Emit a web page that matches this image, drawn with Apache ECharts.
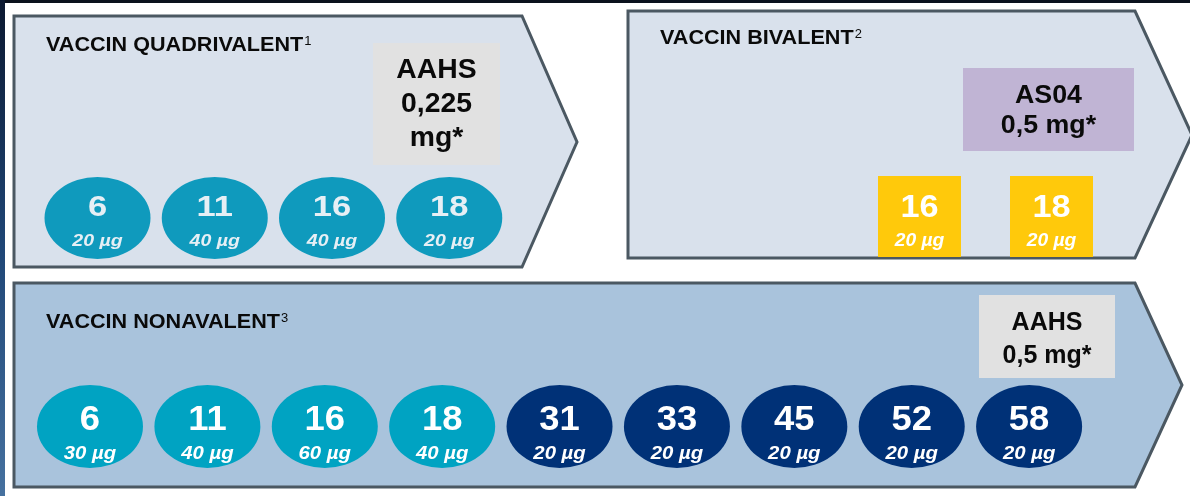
<!DOCTYPE html>
<html>
<head>
<meta charset="utf-8">
<script src="https://cdn.jsdelivr.net/npm/echarts@6/dist/echarts.min.js"></script>
<style>
html,body{margin:0;padding:0;background:#ffffff;}
#main{width:1190px;height:496px;}
</style>
</head>
<body>
<div id="main"></div>
<script>
// ---- Data ----
const vaccineNames = ['VACCIN QUADRIVALENT', 'VACCIN BIVALENT', 'VACCIN NONAVALENT'];
const footnoteRefs = ['1', '2', '3'];
const quadTypes = ['6', '11', '16', '18'];
const quadDoses = [20, 40, 40, 20];
const biTypes = ['16', '18'];
const biDoses = [20, 20];
const nonaTypes = ['6', '11', '16', '18', '31', '33', '45', '52', '58'];
const nonaDoses = [30, 40, 60, 40, 20, 20, 20, 20, 20];
const nonaIsNewType = [false, false, false, false, true, true, true, true, true];
const adjuvantNames = ['AAHS', 'AS04', 'AAHS'];
const adjuvantAmounts = ['0,225 mg*', '0,5 mg*', '0,5 mg*'];
const doseUnit = 'µg';

// ---- Styles ----
const FONT = '"Liberation Sans", Arial, sans-serif';
const C = {
  quadFill: '#d9e1ec', nonaFill: '#a9c3dc', border: '#4b5862',
  teal1: '#0f9abd', teal2: '#00a3c2', navy: '#003177', yellow: '#ffc90b',
  gray: '#e1e1e1', purple: '#c0b4d4'
};

const chart = echarts.init(document.getElementById('main'), null, {renderer: 'canvas'});

// shape: 'ellipse' | 'rect'; st: label style settings
function makeRender(shape, w, h, st) {
  return function (params, api) {
    const pt = api.coord([api.value(0), api.value(1)]);
    const color = api.visual('color');
    const typeLabel = st.labels[params.dataIndex];
    const dose = api.value(2);
    const mark = shape === 'ellipse'
      ? {type: 'circle', shape: {cx: 0, cy: 0, r: h / 2}, scaleX: w / h, style: {fill: color}}
      : {type: 'rect', shape: {x: -w / 2, y: -h / 2, width: w, height: h}, style: {fill: color}};
    return {
      type: 'group', x: pt[0], y: pt[1],
      children: [
        mark,
        {type: 'text', x: 0, y: st.numY, scaleX: st.numSX,
         style: {text: typeLabel, align: 'center', verticalAlign: 'middle',
           fontFamily: FONT, fontWeight: 'bold', fontSize: st.numSize, fill: st.color}},
        {type: 'text', x: 0, y: st.doseY, scaleX: st.doseSX,
         style: {text: dose + ' ' + doseUnit, align: 'center', verticalAlign: 'middle',
           fontFamily: FONT, fontWeight: 'bold', fontStyle: 'italic', fontSize: st.doseSize, fill: st.color}}
      ]
    };
  };
}

const panels = [
  {points: [[14, 16], [522, 16], [577, 142], [522, 267], [14, 267]], fill: C.quadFill},
  {points: [[628, 11], [1135, 11], [1192, 135], [1135, 258], [628, 258]], fill: C.quadFill},
  {points: [[14, 283], [1135, 283], [1182, 385], [1135, 487], [14, 487]], fill: C.nonaFill}
];
const titlePos = [[46, 44], [660, 37], [46, 321]];
const boxes = [
  {x: 373, y: 43, w: 127, h: 122, fill: C.gray, size: 27, lh: 34, multi: true, dy: 1, sx: 1.05},
  {x: 963, y: 68, w: 171, h: 83, fill: C.purple, size: 26, lh: 30, multi: false, dy: 1, sx: 1.03},
  {x: 979, y: 295, w: 136, h: 83, fill: C.gray, size: 25, lh: 33, multi: false, dy: 3, sx: 1.0}
];

const graphic = [
  {type: 'rect', shape: {x: 0, y: 0, width: 1190, height: 3}, style: {fill: '#0a111d'}, z: -20, silent: true},
  {type: 'rect', shape: {x: 0, y: 0, width: 5, height: 496}, z: -20, silent: true,
   style: {fill: new echarts.graphic.LinearGradient(0, 0, 0, 1, [
     {offset: 0, color: '#0b1830'}, {offset: 0.5, color: '#1f4676'}, {offset: 1, color: '#46719f'}])}}
];
panels.forEach(p => graphic.push({
  type: 'polygon', shape: {points: p.points}, z: -10, silent: true,
  style: {fill: p.fill, stroke: C.border, lineWidth: 3, lineJoin: 'miter'}
}));
vaccineNames.forEach((name, i) => graphic.push({
  type: 'text', x: titlePos[i][0], y: titlePos[i][1], z: -5, silent: true, scaleX: 1.08,
  style: {
    text: `{t|${name}}{s|${footnoteRefs[i]}}`, verticalAlign: 'middle',
    rich: {
      t: {fontFamily: FONT, fontWeight: 'bold', fontSize: 20, fill: '#0a0a0a', lineHeight: 22, verticalAlign: 'bottom'},
      s: {fontFamily: FONT, fontSize: 12, fill: '#0a0a0a', lineHeight: 22, verticalAlign: 'bottom', padding: [0, 0, 7, 1]}
    }
  }
}));
boxes.forEach((b, i) => {
  graphic.push({type: 'rect', shape: {x: b.x, y: b.y, width: b.w, height: b.h}, style: {fill: b.fill}, z: -5, silent: true});
  const amount = b.multi ? adjuvantAmounts[i].replace(' ', '\n') : adjuvantAmounts[i];
  graphic.push({
    type: 'text', x: b.x + b.w / 2, y: b.y + b.h / 2 + b.dy, z: -4, silent: true, scaleX: b.sx,
    style: {text: adjuvantNames[i] + '\n' + amount, align: 'center', verticalAlign: 'middle',
      fontFamily: FONT, fontWeight: 'bold', fontSize: b.size, lineHeight: b.lh, fill: '#0a0a0a'}
  });
});

const quadStyle = {labels: quadTypes, numY: -10, doseY: 23, numSize: 30, numSX: 1.15, doseSize: 17, doseSX: 1.15, color: '#e6eff5'};
const biStyle = {labels: biTypes, numY: -8, doseY: 24, numSize: 32, numSX: 1.07, doseSize: 18.5, doseSX: 1.04, color: '#ffffff'};
const nonaStyle = {labels: nonaTypes, numY: -6, doseY: 27, numSize: 35, numSX: 1.04, doseSize: 18.5, doseSX: 1.1, color: '#ffffff'};

const option = {
  animation: false,
  backgroundColor: '#ffffff',
  graphic: graphic,
  grid: [
    {left: 38.9, top: 177, width: 469, height: 82},
    {left: 853.5, top: 176, width: 264, height: 81},
    {left: 31.3, top: 385, width: 1056.5, height: 83}
  ],
  xAxis: [
    {type: 'category', gridIndex: 0, data: quadTypes, show: false},
    {type: 'category', gridIndex: 1, data: biTypes, show: false},
    {type: 'category', gridIndex: 2, data: nonaTypes, show: false}
  ],
  yAxis: [
    {type: 'category', gridIndex: 0, data: [vaccineNames[0]], show: false},
    {type: 'category', gridIndex: 1, data: [vaccineNames[1]], show: false},
    {type: 'category', gridIndex: 2, data: [vaccineNames[2]], show: false}
  ],
  series: [
    {
      type: 'custom', xAxisIndex: 0, yAxisIndex: 0, silent: true,
      renderItem: makeRender('ellipse', 106, 82, quadStyle),
      itemStyle: {color: C.teal1},
      encode: {x: 0, y: 1},
      data: quadTypes.map((t, i) => [t, vaccineNames[0], quadDoses[i]])
    },
    {
      type: 'custom', xAxisIndex: 1, yAxisIndex: 1, silent: true,
      renderItem: makeRender('rect', 83, 81, biStyle),
      itemStyle: {color: C.yellow},
      encode: {x: 0, y: 1},
      data: biTypes.map((t, i) => [t, vaccineNames[1], biDoses[i]])
    },
    {
      type: 'custom', xAxisIndex: 2, yAxisIndex: 2, silent: true,
      renderItem: makeRender('ellipse', 106, 83, nonaStyle),
      encode: {x: 0, y: 1},
      data: nonaTypes.map((t, i) => ({
        value: [t, vaccineNames[2], nonaDoses[i]],
        itemStyle: {color: nonaIsNewType[i] ? C.navy : C.teal2}
      }))
    }
  ]
};
chart.setOption(option);
</script>
</body>
</html>
